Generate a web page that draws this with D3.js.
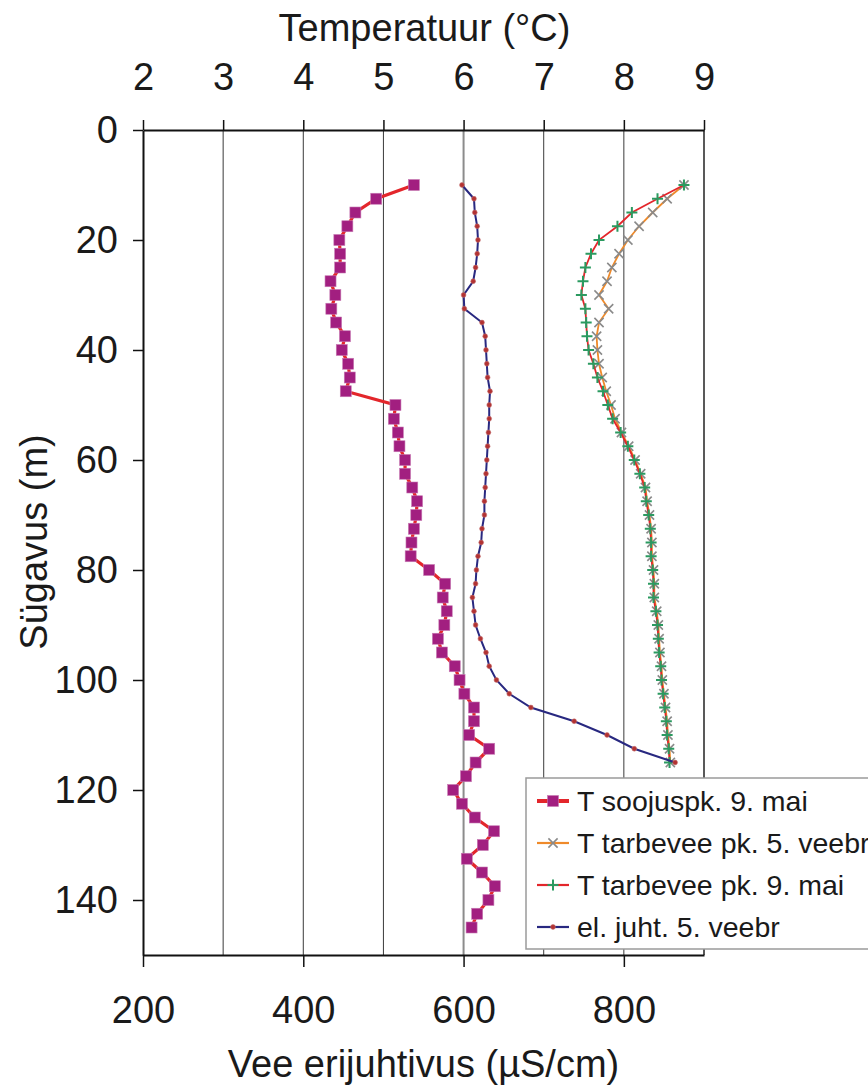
<!DOCTYPE html>
<html>
<head>
<meta charset="utf-8">
<script src="https://cdn.jsdelivr.net/npm/d3@7"></script>
<style>
  html, body { margin: 0; padding: 0; background: #fff; }
  svg { display: block; font-family: "Liberation Sans", Arial, sans-serif; }
</style>
</head>
<body>
<svg id="chart" width="868" height="1086"></svg>
<script>
// Temperature and conductivity profiles in a borehole, by depth (m)

const tempTicks = [2, 3, 4, 5, 6, 7, 8, 9];
const condTicks = [200, 400, 600, 800];
const depthTicks = [0, 20, 40, 60, 80, 100, 120, 140];

// Heat-pump well, 9 May
const depthSoojus = [10, 12.5, 15, 17.5, 20, 22.5, 25, 27.5, 30, 32.5, 35, 37.5, 40, 42.5, 45, 47.5,
  50, 52.5, 55, 57.5, 60, 62.5, 65, 67.5, 70, 72.5, 75, 77.5, 80, 82.5, 85, 87.5, 90, 92.5,
  95, 97.5, 100, 102.5, 105, 107.5, 110, 112.5, 115, 117.5, 120, 122.5, 125, 127.5, 130, 132.5,
  135, 137.5, 140, 142.5, 145];
const tSoojusMai = [5.38, 4.91, 4.65, 4.55, 4.45, 4.46, 4.46, 4.34, 4.40, 4.35, 4.41, 4.52, 4.48, 4.56, 4.58, 4.53,
  5.15, 5.13, 5.18, 5.20, 5.27, 5.27, 5.36, 5.42, 5.41, 5.38, 5.35, 5.34, 5.57, 5.77, 5.74, 5.79, 5.76, 5.68,
  5.73, 5.89, 5.95, 6.01, 6.13, 6.13, 6.07, 6.32, 6.15, 6.03, 5.87, 5.98, 6.14, 6.38, 6.24, 6.04,
  6.23, 6.39, 6.31, 6.17, 6.10];

// Domestic water well
const depthTarbevee = [10, 12.5, 15, 17.5, 20, 22.5, 25, 27.5, 30, 32.5, 35, 37.5, 40, 42.5, 45, 47.5,
  50, 52.5, 55, 57.5, 60, 62.5, 65, 67.5, 70, 72.5, 75, 77.5, 80, 82.5, 85, 87.5, 90, 92.5,
  95, 97.5, 100, 102.5, 105, 107.5, 110, 112.5, 115];
const tTarbeveeVeebr = [8.75, 8.54, 8.36, 8.19, 8.05, 7.94, 7.85, 7.79, 7.69, 7.81, 7.69, 7.66, 7.67, 7.69, 7.73, 7.78,
  7.84, 7.89, 7.97, 8.06, 8.14, 8.21, 8.27, 8.29, 8.32, 8.34, 8.35, 8.35, 8.37, 8.38, 8.38, 8.41, 8.43, 8.44,
  8.45, 8.47, 8.48, 8.50, 8.52, 8.54, 8.55, 8.57, 8.58];
const tTarbeveeMai = [8.75, 8.42, 8.10, 7.92, 7.69, 7.59, 7.52, 7.49, 7.47, 7.52, 7.53, 7.54, 7.56, 7.62, 7.67, 7.74,
  7.80, 7.86, 7.96, 8.05, 8.13, 8.20, 8.26, 8.28, 8.31, 8.33, 8.34, 8.34, 8.36, 8.37, 8.37, 8.40, 8.42, 8.43,
  8.44, 8.46, 8.47, 8.49, 8.51, 8.53, 8.54, 8.56, 8.57];
// Electrical conductivity, 5 February (µS/cm)
const condVeebr = [598, 613, 614, 617, 618, 617, 615, 612, 600, 601, 623, 627, 628, 629, 630, 633,
  632, 632, 631, 630, 629, 628, 627, 626, 626, 623, 622, 618, 616, 615, 611, 613, 615, 621,
  628, 632, 641, 657, 684, 738, 779, 813, 864];

const legendLabels = ["T soojuspk. 9. mai", "T tarbevee pk. 5. veebr", "T tarbevee pk. 9. mai", "el. juht. 5. veebr"];

const svg = d3.select("#chart");
const plot = { left: 143, right: 704, top: 130, bottom: 955 };

const xT = d3.scaleLinear().domain([2, 9]).range([plot.left, plot.right]);
const xC = d3.scaleLinear().domain([200, 900]).range([plot.left, plot.right]);
const y = d3.scaleLinear().domain([0, 150]).range([plot.top, plot.bottom]);

const C = {
  red: "#e3262b", purple: "#a21f80", orange: "#ef8a2a", grayX: "#8a8a8a",
  green: "#2b9a60", navy: "#282880", dot: "#b23232", text: "#1a1a1a"
};
const axisFont = 38;

// vertical grid lines at each inner temperature tick
svg.append("g").selectAll("line")
  .data(tempTicks.slice(1, -1))
  .join("line")
  .attr("x1", d => xT(d)).attr("x2", d => xT(d))
  .attr("y1", plot.top).attr("y2", plot.bottom)
  .attr("stroke", d => d === 6 ? "#8c8c8c" : "#3a3a3a")
  .attr("stroke-width", d => d === 6 ? 2 : 1);

// right frame line
svg.append("line")
  .attr("x1", plot.right).attr("x2", plot.right)
  .attr("y1", plot.top).attr("y2", plot.bottom)
  .attr("stroke", "#222").attr("stroke-width", 1.5);

function styleAxis(g, size) {
  g.selectAll(".domain").attr("stroke", "#111").attr("stroke-width", 2);
  g.selectAll(".tick line").attr("stroke", "#111").attr("stroke-width", 1.5);
  g.selectAll(".tick text").attr("fill", C.text).style("font-size", size + "px");
  g.attr("font-family", null);
}

const topAxis = svg.append("g")
  .attr("transform", `translate(0,${plot.top})`)
  .call(d3.axisTop(xT).tickValues(tempTicks).tickFormat(d3.format("d")).tickSize(10).tickSizeOuter(0).tickPadding(30));
styleAxis(topAxis, axisFont);

const bottomAxis = svg.append("g")
  .attr("transform", `translate(0,${plot.bottom})`)
  .call(d3.axisBottom(xC).tickValues(condTicks).tickFormat(d3.format("d")).tickSize(12).tickSizeOuter(0).tickPadding(29));
styleAxis(bottomAxis, axisFont);

const leftAxis = svg.append("g")
  .attr("transform", `translate(${plot.left},0)`)
  .call(d3.axisLeft(y).tickValues(depthTicks).tickFormat(d3.format("d")).tickSize(10).tickSizeOuter(0).tickPadding(15));
styleAxis(leftAxis, axisFont);

// axis titles
svg.append("text")
  .attr("x", (plot.left + plot.right) / 2 + 1).attr("y", 41)
  .attr("text-anchor", "middle").attr("fill", C.text).style("font-size", axisFont + "px")
  .text("Temperatuur (°C)");
svg.append("text")
  .attr("x", (plot.left + plot.right) / 2).attr("y", 1077)
  .attr("text-anchor", "middle").attr("fill", C.text).style("font-size", axisFont + "px")
  .text("Vee erijuhtivus (µS/cm)");
svg.append("text")
  .attr("transform", "translate(47,542) rotate(-90)")
  .attr("text-anchor", "middle").attr("fill", C.text).style("font-size", axisFont + "px")
  .text("Sügavus (m)");

// marker shapes
const sq = 11;
function drawSquares(g, pts) {
  g.selectAll("rect").data(pts).join("rect")
    .attr("x", d => d[0] - sq / 2).attr("y", d => d[1] - sq / 2)
    .attr("width", sq).attr("height", sq)
    .attr("fill", C.purple).attr("stroke", "#c77ab3").attr("stroke-width", 0.6);
}
function drawCrosses(g, pts) {
  const s = 4.6;
  g.selectAll("path").data(pts).join("path")
    .attr("d", d => `M${d[0] - s},${d[1] - s}L${d[0] + s},${d[1] + s}M${d[0] - s},${d[1] + s}L${d[0] + s},${d[1] - s}`)
    .attr("stroke", C.grayX).attr("stroke-width", 1.6).attr("fill", "none");
}
function drawPluses(g, pts) {
  const s = 5.5;
  g.selectAll("path").data(pts).join("path")
    .attr("d", d => `M${d[0] - s},${d[1]}L${d[0] + s},${d[1]}M${d[0]},${d[1] - s}L${d[0]},${d[1] + s}`)
    .attr("stroke", C.green).attr("stroke-width", 2).attr("fill", "none");
}
function drawDots(g, pts) {
  g.selectAll("circle").data(pts).join("circle")
    .attr("cx", d => d[0]).attr("cy", d => d[1]).attr("r", 2.4)
    .attr("fill", C.dot).attr("stroke", "#c47070").attr("stroke-width", 0.6);
}

const line = d3.line();

// series 1: heat-pump well temperature
const p1 = depthSoojus.map((d, i) => [xT(tSoojusMai[i]), y(d)]);
svg.append("path").attr("d", line(p1)).attr("fill", "none").attr("stroke", C.red).attr("stroke-width", 3.2);
drawSquares(svg.append("g"), p1);

// series 2: domestic well temperature, February
const p2 = depthTarbevee.map((d, i) => [xT(tTarbeveeVeebr[i]), y(d)]);
svg.append("path").attr("d", line(p2)).attr("fill", "none").attr("stroke", C.orange).attr("stroke-width", 1.8);
drawCrosses(svg.append("g"), p2);

// series 3: domestic well temperature, May
const p3 = depthTarbevee.map((d, i) => [xT(tTarbeveeMai[i]), y(d)]);
svg.append("path").attr("d", line(p3)).attr("fill", "none").attr("stroke", C.red).attr("stroke-width", 1.8);
drawPluses(svg.append("g"), p3);

// series 4: conductivity, February
const p4 = depthTarbevee.map((d, i) => [xC(condVeebr[i]), y(d)]);
svg.append("path").attr("d", line(p4)).attr("fill", "none").attr("stroke", C.navy).attr("stroke-width", 2);
drawDots(svg.append("g"), p4);

// legend
const lg = svg.append("g").attr("transform", "translate(526,778)");
lg.append("rect").attr("x", 0).attr("y", 0).attr("width", 380).attr("height", 171)
  .attr("fill", "#fff").attr("stroke", "#9a9a9a").attr("stroke-width", 1.5);
const rowY = [23, 65, 107, 149];
const lx1 = 11, lx2 = 43, lmid = 27;
legendLabels.forEach((label, i) => {
  const g = lg.append("g").attr("transform", `translate(0,${rowY[i]})`);
  const colors = [C.red, C.orange, C.red, C.navy];
  g.append("line").attr("x1", lx1).attr("x2", lx2).attr("y1", 0).attr("y2", 0)
    .attr("stroke", colors[i]).attr("stroke-width", i === 0 ? 4 : 2.2);
  if (i === 0) drawSquares(g.append("g"), [[lmid, 0]]);
  if (i === 1) drawCrosses(g.append("g"), [[lmid, 0]]);
  if (i === 2) drawPluses(g.append("g"), [[lmid, 0]]);
  if (i === 3) drawDots(g.append("g"), [[lmid, 0]]);
  g.append("text").attr("x", 51).attr("y", 10)
    .attr("fill", C.text).style("font-size", "28.5px").text(label);
});
</script>
</body>
</html>
